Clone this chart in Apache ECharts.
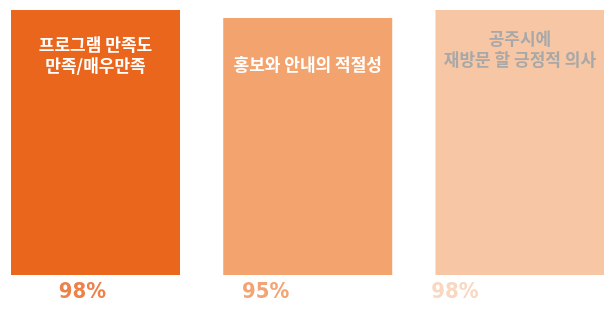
<!DOCTYPE html>
<html>
<head>
<meta charset="utf-8">
<script src="https://cdn.jsdelivr.net/npm/echarts@6/dist/echarts.min.js"></script>
<style>
  html, body { margin: 0; padding: 0; background: #fff; }
  #chart { width: 604px; height: 309px; }
</style>
</head>
<body>
<div id="chart"></div>
<script>
// 항목 / 값
const categories = ['프로그램 만족도\n만족/매우만족', '홍보와 안내의 적절성', '공주시에\n재방문 할 긍정적 의사']
const values = [98, 95, 98]
const percentLabels = ['98%', '95%', '98%']

// 색상
const barColors = ['#ea661d', '#f2a36e', '#f7c6a4']
const percentColors = ['#e8621a', '#ef8d50', '#f8cdb0']
const titleColors = ['#ffffff', '#ffffff', '#a8a8a8']
// 막대 안 글자 위치 (막대 위에서부터), 퍼센트 글자 가로 이동
const titleTops = [24, 36, 18]
const percentShift = [-13, -42, -65]

let chart = echarts.init(document.getElementById('chart'))

let barData = values.map((v, i) => ({
  value: [i, v],
  itemStyle: { color: barColors[i] },
  label: {
    position: ['50%', titleTops[i]],
    align: 'center',
    verticalAlign: 'top',
    color: titleColors[i]
  }
}))

let pctData = percentLabels.map((t, i) => ({
  value: [i, 0],
  label: {
    offset: [percentShift[i], 0],
    color: percentColors[i]
  }
}))

let option = {
  animation: false,
  grid: { left: 0, right: 0, top: 4.6, bottom: 34 },
  xAxis: {
    type: 'value',
    min: -0.45,
    max: 2.396,
    show: false
  },
  yAxis: { type: 'value', min: 0, max: 100, show: false },
  series: [
    {
      type: 'bar',
      barWidth: 169,
      data: barData,
      label: {
        show: true,
        formatter: (p) => categories[p.dataIndex],
        fontFamily: 'Noto Sans CJK KR',
        fontWeight: 'bold',
        fontSize: 17,
        lineHeight: 21
      }
    },
    {
      type: 'scatter',
      symbolSize: 0,
      data: pctData,
      silent: true,
      label: {
        show: true,
        position: 'bottom',
        distance: 6,
        formatter: (p) => percentLabels[p.dataIndex],
        fontFamily: 'DejaVu Sans Condensed, sans-serif',
        fontWeight: 'bold',
        fontSize: 22
      }
    }
  ]
}
chart.setOption(option)
</script>
</body>
</html>
